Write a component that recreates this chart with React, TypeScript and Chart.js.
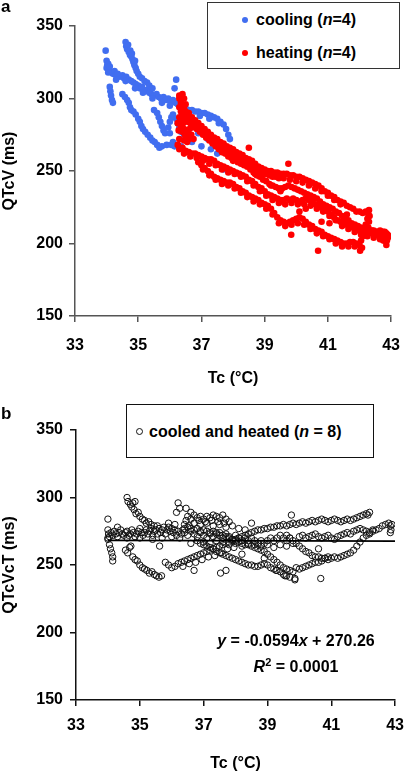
import React, { useEffect, useRef } from "react";
import { Chart, registerables } from "chart.js";
Chart.register(...registerables);

type P = [number, number];

const FONT = '"Liberation Sans", Arial, Helvetica, sans-serif';

// ---------- Panel a : QTcV vs Tc ----------
const xMin = 33, xMax = 43, xStep = 2;
const yMinA = 150, yMaxA = 350, yStep = 50;

const coolingMain: P[] = [
  [33.97,333],[34.0,326],[34.02,323],[34.0,321],[34.05,324],[34.08,319],[34.1,322],[34.15,318],[34.2,317],[34.25,319],
  [34.3,316],[34.35,317],[34.42,315],[34.5,316],[34.55,314],[34.62,315],[34.7,313],[34.78,312],[34.85,311],[34.92,310],
  [35.0,309],[35.05,307],[35.12,308],[35.2,305],[35.28,306],[35.35,304],[35.42,303],[35.5,302],[35.58,303],[35.65,301],
  [35.72,300],[35.8,301],[35.88,299],[35.95,300],[36.02,298],[36.1,299],[36.18,297],[36.25,296],[36.32,295],[36.4,294],
  [36.5,293],[36.6,292],[36.7,292],[36.8,291],[36.9,291],[37.0,290],[37.1,290],[37.2,289],[37.3,288],[37.4,287],
  [37.5,286],[37.6,284],[37.7,282],[37.78,279],[37.85,275],[37.9,272],
  [34.05,318],[34.3,313],[34.6,312],[34.9,307],[35.15,304],[35.45,300],[35.75,297],[36.0,295],[36.6,289],[36.95,288],
  [37.25,286],[37.55,283],
];
const coolingUpper: P[] = [
  [34.6,339],[34.62,336],[34.65,334],[34.7,332],[34.74,330],[34.78,329],[34.82,327],[34.85,325],[34.88,323],[34.92,321],
  [34.95,319],[35.0,317],[35.05,315],[35.12,314],[35.2,312],[35.28,311],[35.35,309],[35.45,307],
  [34.68,337],[34.75,333],[34.8,331],[34.9,326],
];
const coolingLower: P[] = [
  [34.1,308],[34.12,305],[34.14,302],[34.17,299],[34.2,297],[34.5,303],[34.58,301],[34.65,299],[34.7,297],[34.74,294],
  [34.78,292],[34.85,291],[34.92,289],[35.0,286],[35.05,284],[35.1,281],[35.15,279],[35.22,277],[35.3,275],[35.38,273],
  [35.45,271],[35.52,270],[35.6,268],[35.67,266],[35.75,267],[35.9,268],[36.05,268],[36.15,267],[36.25,268],[36.35,267],
];
const coolingMid: P[] = [
  [35.5,292],[35.6,290],[35.65,287],[35.7,284],[35.75,281],[35.8,278],[35.85,276],[35.95,280],[36.0,284],[36.05,287],
  [36.1,289],[36.2,286],[36.25,283],[36.3,280],[36.35,277],[36.45,275],
];
const coolingScatter: P[] = [
  [36.2,313],[36.15,307],[36.0,276],[36.1,270],[36.7,270],[37.0,267],[37.3,265],[37.5,262],[37.7,251],[38.3,258],
  [38.4,258],[38.2,261],[37.9,262],[37.2,272],[36.9,276],[36.4,283],
];

const heatingTop: P[] = [
  [36.3,302],[36.35,299],[36.4,296],[36.45,293],[36.5,291],[36.6,289],[36.7,287],[36.8,285],[36.9,283],[37.0,281],
  [37.1,279],[37.2,277],[37.3,275],[37.4,273],[37.5,272],[37.6,270],[37.7,269],[37.8,267],[37.9,266],[38.0,265],
  [38.1,263],[38.2,262],[38.3,261],[38.4,259],[38.5,258],[38.6,257],[38.7,255],[38.8,253],[38.9,252],[39.0,251],
  [39.1,250],[39.2,250],[39.3,249],[39.4,249],[39.5,248],[39.6,248],[39.7,248],[39.8,247],[39.9,247],[40.0,246],
  [40.1,246],[40.2,245],[40.3,244],[40.4,243],[40.5,242],[40.6,241],[40.7,240],[40.8,238],[40.9,236],[41.0,235],
  [41.1,233],[41.2,232],[41.3,230],[41.4,229],[41.5,228],[41.6,226],[41.7,225],[41.8,224],[41.9,222],[42.0,222],
  [42.1,221],[42.2,222],[42.3,223],[42.32,219],[42.3,215],[42.28,211],[42.4,209],[42.5,208],[42.6,207],[42.7,208],
  [42.8,208],[42.85,205],[42.87,202],[42.85,199],[42.9,204],
];
const heatingTopInner: P[] = [
  [36.55,287],[36.65,286],[36.75,283],[36.85,282],[36.95,279],[37.05,278],[37.15,275],[37.25,274],[37.35,271],[37.45,270],
  [37.55,268],[37.65,266],[37.75,265],[37.85,263],[37.95,262],[38.05,261],[38.15,259],[38.25,258],[38.35,257],[38.45,255],
  [38.55,254],[38.65,253],[38.75,251],[38.85,250],[38.95,248],[39.05,248],[39.15,247],[39.25,246],[39.35,246],[39.45,245],
  [39.6,245],[39.8,244],[40.0,243],[40.2,242],[40.4,240],[40.6,238],[40.8,236],[41.0,233],[41.2,230],[41.4,227],
];
const heatingSecond: P[] = [
  [36.45,288],[36.55,285],[36.65,283],[36.75,281],[36.85,279],[36.95,277],[37.05,275],[37.15,273],[37.25,271],[37.35,269],
  [37.45,267],[37.55,265],[37.65,263],[37.75,262],[37.85,260],[37.95,259],[38.05,258],[38.15,256],[38.25,255],[38.35,254],
  [38.45,253],[38.55,251],[38.65,249],[38.75,247],[38.85,246],[38.95,244],[39.05,243],[39.15,241],[39.25,240],[39.35,239],
  [39.45,238],[39.55,238],[39.65,239],[39.75,240],[39.85,239],[39.95,238],[40.05,237],[40.15,236],[40.25,235],[40.35,234],
  [40.45,233],[40.55,232],[40.65,231],[40.75,229],[40.85,227],[40.95,226],[41.05,225],[41.15,224],[41.25,222],[41.35,221],
  [41.45,219],[41.55,217],[41.65,216],[41.75,214],[41.85,213],[41.95,212],[42.05,211],[42.15,210],[42.25,210],[42.35,209],
  [42.45,209],[42.55,208],[42.65,209],[42.75,208],[42.85,207],
];
const heatingThird: P[] = [
  [36.25,268],[36.3,265],[36.4,266],[36.5,264],[36.6,263],[36.7,262],[36.8,262],[36.9,261],[37.0,260],[37.1,259],
  [37.2,258],[37.3,258],[37.4,257],[37.5,255],[37.6,254],[37.7,253],[37.8,252],[37.9,251],[38.0,250],[38.1,249],
  [38.2,248],[38.3,247],[38.4,246],[38.5,244],[38.6,243],[38.7,241],[38.8,239],[38.9,238],[39.0,236],[39.1,234],
  [39.2,233],[39.3,232],[39.4,231],[39.5,230],[39.6,230],[39.7,231],[39.8,230],[39.9,231],[40.0,230],[40.1,229],
  [40.2,230],[40.3,231],[40.4,230],[40.5,229],[40.6,227],[40.7,226],[40.8,225],[40.9,224],[41.0,222],[41.1,220],
  [41.2,218],[41.3,216],[41.4,215],[41.5,214],[41.6,213],[41.7,212],[41.8,211],[41.9,210],[42.0,209],[42.1,208],
  [42.2,208],[42.3,207],[42.4,207],[42.5,206],[42.6,206],[42.7,205],[42.8,206],[42.9,206],
  [36.45,262],[36.65,260],[36.85,259],[37.05,257],[37.25,255],[37.45,254],[37.65,251],[37.85,249],[38.05,248],[38.25,246],
  [38.45,243],[38.65,240],[38.85,236],[39.05,233],[39.25,230],[39.45,228],[39.65,227],[39.85,228],[40.05,227],[40.25,227],
  [40.45,226],[40.65,224],[40.85,222],[41.05,219],[41.25,216],[41.45,212],[41.65,210],[41.85,208],[42.05,206],[42.25,205],
  [42.45,204],[42.65,203],[42.75,202],
];
const heatingFourth: P[] = [
  [36.9,256],[37.0,254],[37.1,252],[37.2,250],[37.3,248],[37.4,246],[37.5,245],[37.6,244],[37.7,243],[37.8,242],
  [37.9,242],[38.0,241],[38.1,239],[38.2,238],[38.3,236],[38.4,235],[38.5,233],[38.6,232],[38.7,231],[38.8,230],
  [38.9,228],[39.0,227],[39.1,226],[39.2,224],[39.3,221],[39.4,218],[39.5,216],[39.6,215],[39.7,214],[39.8,215],
  [39.9,216],[40.0,217],[40.1,218],[40.2,217],[40.3,215],[40.4,213],[40.5,212],[40.6,210],[40.7,209],[40.8,208],
  [40.9,206],[41.0,205],[41.1,204],[41.2,203],[41.3,202],[41.4,201],[41.5,200],[41.6,200],[41.7,201],[41.8,201],
  [41.9,200],[42.0,199],[42.05,202],[42.1,205],[42.15,209],[42.2,213],[42.25,217],[42.28,220],
  [37.05,251],[37.25,247],[37.45,244],[37.65,241],[37.85,240],[38.05,238],[38.25,235],[38.45,232],[38.65,229],[38.85,227],
  [39.05,224],[39.25,220],[39.45,214],[39.65,212],[39.85,213],[40.05,214],[40.25,213],[40.45,210],[40.65,207],[40.85,205],
  [41.05,203],[41.25,200],[41.45,198],[41.65,198],[41.85,198],
];
const heatingStart: P[] = [
  [36.3,300],[36.35,297],[36.3,294],[36.35,291],[36.4,289],[36.3,287],[36.38,285],[36.42,283],[36.35,281],[36.45,279],
  [36.4,277],[36.48,275],[36.5,273],[36.45,271],[36.55,270],[36.6,272],[36.58,276],[36.62,279],[36.55,284],[36.52,288],
  [36.6,290],[36.5,296],[36.4,303],[36.45,300],[36.7,280],[36.68,275],[36.75,272],[36.25,283],[36.28,278],[36.3,272],
];
const heatingScatter: P[] = [
  [38.5,266],[39.75,255],[39.84,206],[40.69,195],[42.02,195],[42.08,197],[41.05,214],[40.3,224],[39.2,240],[38.7,248],
  [39.5,236],[40.1,222],[40.8,215],[41.6,220],[38.0,257],
];

// ---------- Panel b : QTcVcT vs Tc ----------
const yMinB = 150, yMaxB = 350;
const slope = -0.0594, intercept = 270.26;
const fitFrom = 34, fitTo = 43;

const cvFlatLeft: P[] = [
  [34.0,276],[34.02,273],[34.05,271],[34.0,270],[34.1,274],[34.15,272],[34.2,275],[34.25,273],[34.3,271],[34.35,274],
  [34.4,276],[34.45,273],[34.5,272],[34.55,274],[34.6,275],[34.65,272],[34.7,273],[34.75,276],[34.8,274],[34.85,271],
  [34.9,273],[34.95,275],[35.0,277],[35.05,274],[35.1,272],[35.15,274],[35.2,276],[35.25,273],[35.3,275],[35.35,277],
  [35.4,272],[35.45,275],[35.5,276],[35.55,273],[35.6,277],[35.65,274],[35.7,276],[35.75,278],[35.8,273],[35.85,276],
  [35.9,278],[35.95,275],[36.0,277],[36.05,274],[36.1,276],[36.15,272],[36.2,275],[36.25,270],[36.3,273],[36.35,276],
  [34.3,278],[34.6,270],[35.0,270],[35.4,269],[35.7,270],[36.0,271],[35.9,281],[36.1,280],
];
const cvSpike: P[] = [
  [34.0,284],[34.6,300],[34.63,297],[34.7,295],[34.78,296],[34.85,297],[34.75,293],[34.82,291],[34.88,288],[34.95,289],
  [35.0,286],[35.08,284],[35.15,283],[35.2,281],[35.28,282],[35.35,280],[35.45,279],[35.55,279],
];
const cvLowLeft: P[] = [
  [34.0,269],[34.05,265],[34.08,262],[34.12,259],[34.15,256],[34.15,253],[34.55,261],[34.62,259],[34.68,263],[34.72,264],
  [34.78,256],[34.85,254],[34.92,253],[35.0,250],[35.08,248],[35.15,247],[35.22,246],[35.3,244],[35.38,245],[35.45,243],
  [35.52,242],[35.6,241],[35.68,242],[35.62,264],
];
const cvRising: P[] = [
  [35.8,252],[35.9,250],[36.0,248],[36.1,249],[36.2,251],[36.3,252],[36.4,253],[36.5,254],[36.6,255],[36.7,256],
  [36.8,257],[36.9,258],[37.0,259],[37.1,260],[37.2,261],[37.3,262],[37.4,263],[37.5,264],[37.6,265],[37.7,266],
  [37.8,267],[37.9,268],[38.0,269],[38.1,270],[38.2,271],[38.3,272],[38.4,273],[38.5,274],[38.6,275],[38.7,276],
  [38.8,276],[38.9,277],[39.0,277],[39.1,278],[39.2,278],[39.3,279],[39.4,279],[39.5,280],
  [36.35,249],[36.55,251],[36.75,252],[36.95,254],[37.15,256],[37.35,257],[37.55,259],[37.75,262],[37.95,263],
];
const cvUpperMid: P[] = [
  [36.45,283],[36.5,286],[36.6,284],[36.7,287],[36.8,285],[36.9,286],[37.0,284],[37.1,286],[37.2,285],[37.3,287],
  [37.4,286],[37.5,285],[37.6,287],[37.7,284],[37.8,282],[37.9,279],[36.4,280],[36.55,279],[36.7,281],[36.9,280],
  [37.1,281],[37.3,279],[37.5,280],[37.7,278],[36.15,289],[36.25,292],[36.2,296],[36.45,292],[38.5,281],[39.75,287],
  [36.6,289],[36.85,283],[37.05,282],[37.25,283],[37.45,282],[37.65,281],[38.1,277],[38.3,276],
];
const cvCenter: P[] = [
  [36.4,274],[36.5,272],[36.6,275],[36.7,273],[36.8,271],[36.9,274],[37.0,272],[37.1,270],[37.2,273],[37.3,271],
  [37.4,274],[37.5,272],[37.6,270],[37.7,273],[37.8,271],[37.9,269],[38.0,272],[38.1,270],[38.2,268],[38.3,270],
  [38.4,268],[38.5,270],[38.6,268],[38.7,266],[38.8,268],[38.9,266],[39.0,268],[39.1,270],[39.2,268],[39.3,270],
  [39.4,272],[39.5,270],[39.6,268],[39.7,270],
  [36.6,266],[36.8,268],[37.0,267],[37.2,266],[37.4,268],[37.6,267],[37.8,265],[38.0,266],[38.2,264],[38.4,266],
  [38.6,265],[38.8,264],[39.0,265],[39.2,263],[39.4,265],[39.6,264],[39.8,266],
];
const cvDescending: P[] = [
  [36.4,277],[36.5,278],[36.6,277],[36.7,276],[36.8,277],[36.9,275],[37.0,276],[37.1,275],[37.2,274],[37.3,275],
  [37.4,273],[37.5,274],[37.6,272],[37.7,271],[37.8,270],[37.9,269],[38.0,268],[38.1,267],[38.2,266],[38.3,265],
  [38.4,265],[38.5,264],[38.6,263],[38.7,262],[38.8,261],[38.9,260],[39.0,258],[39.1,256],[39.2,254],[39.3,252],
  [39.4,250],[39.5,248],[39.6,247],[39.7,246],[39.8,245],
];
const cvFalling: P[] = [
  [36.9,266],[37.0,265],[37.1,264],[37.2,263],[37.3,262],[37.4,260],[37.5,259],[37.6,258],[37.7,257],[37.8,256],
  [37.9,255],[38.0,254],[38.1,253],[38.2,252],[38.3,251],[38.4,250],[38.5,250],[38.6,249],[38.7,249],[38.8,250],
  [38.9,251],[39.0,250],[39.1,248],[39.2,247],[39.3,246],[39.4,245],[39.5,243],[39.6,242],[39.7,241],[39.86,240],
];
const cvRightUpper: P[] = [
  [39.6,279],[39.7,280],[39.8,281],[39.9,280],[40.0,281],[40.1,282],[40.2,281],[40.3,282],[40.4,283],[40.5,282],
  [40.6,283],[40.7,284],[40.8,283],[40.9,282],[41.0,283],[41.1,284],[41.2,283],[41.3,282],[41.4,283],[41.5,284],
  [41.6,283],[41.7,284],[41.8,285],[41.9,286],[42.0,287],[42.1,288],[42.2,289],[42.15,287],
];
const cvRightDip: P[] = [
  [39.6,272],[39.7,270],[39.8,268],[39.9,266],[40.0,264],[40.1,262],[40.2,260],[40.3,259],[40.4,257],[40.5,256],
  [40.6,256],[40.7,255],[40.8,255],[40.9,254],[41.0,255],[41.1,256],[41.2,255],[41.3,256],[41.4,257],[41.5,258],
  [41.6,259],[41.7,261],[41.8,264],[41.9,267],[42.0,270],[42.1,272],[42.2,273],[42.3,275],[42.4,276],[42.5,277],
  [42.6,279],[42.7,280],[42.8,281],[42.85,279],[42.87,276],[42.85,274],[42.9,280],
];
const cvRightLower: P[] = [
  [39.9,248],[40.0,247],[40.1,248],[40.2,249],[40.3,250],[40.4,251],[40.5,252],[40.6,252],[40.7,253],[40.8,255],[40.9,256],
];
const cvRightFlat: P[] = [
  [40.0,271],[40.1,272],[40.2,270],[40.3,271],[40.4,272],[40.5,273],[40.6,271],[40.7,270],[40.8,271],[40.9,272],
  [41.0,270],[41.1,269],[41.2,271],[41.3,272],[41.4,273],[41.5,274],[41.6,273],[41.7,275],[41.8,276],[41.9,277],
  [42.0,276],[42.1,275],[42.2,274],[42.3,276],
];
const cvScatter: P[] = [
  [40.67,240],[39.86,239],[36.7,246],[37.53,244],[37.7,246],[39.27,246],[39.55,242],[38.9,255],[38.2,258],[40.6,262],
];

const coolingPoints = [...coolingMain, ...coolingUpper, ...coolingLower, ...coolingMid, ...coolingScatter];
const heatingPoints = [...heatingTop, ...heatingTopInner, ...heatingSecond, ...heatingThird, ...heatingFourth, ...heatingStart, ...heatingScatter];
const combinedPoints = [
  ...cvFlatLeft, ...cvSpike, ...cvLowLeft, ...cvRising, ...cvUpperMid, ...cvCenter, ...cvDescending,
  ...cvFalling, ...cvRightUpper, ...cvRightDip, ...cvRightLower, ...cvRightFlat, ...cvScatter,
];

const toXY = (arr: P[]) => arr.map(([x, y]) => ({ x, y }));

function axes(opts: {
  yMin: number; yMax: number; yTitle: string; axisColor: string;
  yWidth: number; xHeight: number; xTickPad: number; yTickPad: number; xTitlePad: number;
}) {
  const tickFont = { family: FONT, size: 16, weight: "bold" as const };
  return {
    x: {
      type: "linear" as const,
      min: xMin, max: xMax,
      afterFit: (s: any) => { s.height = opts.xHeight; },
      ticks: { stepSize: xStep, color: "#000", font: tickFont, padding: opts.xTickPad, maxRotation: 0 },
      grid: { drawOnChartArea: false, drawTicks: true, tickLength: 6, color: opts.axisColor, lineWidth: 1.5 },
      border: { display: true, color: opts.axisColor, width: 1.5 },
      title: { display: true, text: "Tc (°C)", color: "#000", font: tickFont, padding: { top: 0, bottom: opts.xTitlePad } },
    },
    y: {
      type: "linear" as const,
      min: opts.yMin, max: opts.yMax,
      afterFit: (s: any) => { s.width = opts.yWidth; },
      ticks: { stepSize: yStep, color: "#000", font: tickFont, padding: opts.yTickPad },
      grid: { drawOnChartArea: false, drawTicks: true, tickLength: 6, color: opts.axisColor, lineWidth: 1.5 },
      border: { display: true, color: opts.axisColor, width: 1.5 },
      title: { display: true, text: opts.yTitle, color: "#000", font: tickFont, padding: { top: 0, bottom: 0 } },
    },
  };
}

function ChartA() {
  const ref = useRef<HTMLCanvasElement>(null);
  useEffect(() => {
    const chart = new Chart(ref.current!, {
      type: "scatter",
      data: {
        datasets: [
          { label: "heating (n=4)", data: toXY(heatingPoints), backgroundColor: "#ff0000", borderWidth: 0, pointRadius: 3.3 },
          { label: "cooling (n=4)", data: toXY(coolingPoints), backgroundColor: "#416ef0", borderWidth: 0, pointRadius: 3.3 },
        ],
      },
      options: {
        responsive: false,
        animation: false,
        devicePixelRatio: 1,
        events: [],
        layout: { padding: { left: 0, right: 10, top: 26, bottom: 0 } },
        plugins: { legend: { display: false }, tooltip: { enabled: false } },
        scales: axes({ yMin: yMinA, yMax: yMaxA, yTitle: "QTcV (ms)", axisColor: "#555",
          yWidth: 75, xHeight: 76, xTickPad: 14, yTickPad: 6, xTitlePad: 4 }) as any,
      },
    });
    return () => chart.destroy();
  }, []);
  return <canvas ref={ref} width={414} height={392} style={{ width: 414, height: 392, display: "block" }} />;
}

function ChartB() {
  const ref = useRef<HTMLCanvasElement>(null);
  useEffect(() => {
    const fitLine = [fitFrom, fitTo].map((x) => ({ x, y: slope * x + intercept }));
    const chart = new Chart(ref.current!, {
      type: "scatter",
      data: {
        datasets: [
          { label: "fit", data: fitLine, showLine: true, borderColor: "#000", borderWidth: 1.8, pointRadius: 0, fill: false },
          { label: "cooled and heated (n = 8)", data: toXY(combinedPoints), backgroundColor: "rgba(0,0,0,0)",
            borderColor: "#111", borderWidth: 1, pointRadius: 3.2 },
        ],
      },
      options: {
        responsive: false,
        animation: false,
        devicePixelRatio: 1,
        events: [],
        layout: { padding: { left: 0, right: 16, top: 38, bottom: 0 } },
        plugins: { legend: { display: false }, tooltip: { enabled: false } },
        scales: axes({ yMin: yMinB, yMax: yMaxB, yTitle: "QTcVcT (ms)", axisColor: "#111",
          yWidth: 76, xHeight: 74, xTickPad: 10, yTickPad: 7, xTitlePad: 1 }) as any,
      },
    });
    return () => chart.destroy();
  }, []);
  return <canvas ref={ref} width={414} height={382} style={{ width: 414, height: 382, display: "block" }} />;
}

const txt: React.CSSProperties = {
  position: "absolute", fontFamily: FONT, fontWeight: "bold", fontSize: 16, lineHeight: "20px",
  whiteSpace: "nowrap", color: "#000",
};

export default function App() {
  return (
    <div style={{ position: "absolute", left: 0, top: 0, width: 414, height: 774, background: "#fff", overflow: "hidden" }}>
      <div style={{ position: "absolute", left: 0, top: 0 }}><ChartA /></div>
      <div style={{ position: "absolute", left: 0, top: 392 }}><ChartB /></div>

      <div style={{ ...txt, left: 1, top: -3, fontSize: 17 }}>a</div>
      <div style={{ ...txt, left: 1, top: 404, fontSize: 17 }}>b</div>

      {/* legend a */}
      <div style={{ position: "absolute", left: 207, top: 2, width: 193, height: 67, boxSizing: "border-box", border: "1.5px solid #333", background: "#fff" }} />
      <div style={{ position: "absolute", left: 242, top: 17, width: 6, height: 6, borderRadius: "50%", background: "#416ef0" }} />
      <div style={{ ...txt, left: 256, top: 10 }}>cooling (<i>n</i>=4)</div>
      <div style={{ position: "absolute", left: 242, top: 50, width: 6, height: 6, borderRadius: "50%", background: "#ff0000" }} />
      <div style={{ ...txt, left: 256, top: 43 }}>heating (<i>n</i>=4)</div>

      {/* legend b */}
      <div style={{ position: "absolute", left: 126, top: 404, width: 248, height: 54, boxSizing: "border-box", border: "1.5px solid #111", background: "#fff" }} />
      <div style={{ position: "absolute", left: 135.5, top: 428, width: 7, height: 7, boxSizing: "border-box", borderRadius: "50%", border: "1px solid #111" }} />
      <div style={{ ...txt, left: 149, top: 422 }}>cooled and heated (<i>n</i> = 8)</div>

      {/* regression equation */}
      <div style={{ ...txt, left: 146, width: 300, textAlign: "center", top: 631 }}>
        <i>y</i> = -0.0594<i>x</i> + 270.26
      </div>
      <div style={{ ...txt, left: 146, width: 300, textAlign: "center", top: 657 }}>
        <i>R</i><span style={{ fontSize: 11, position: "relative", top: -6 }}>2</span> = 0.0001
      </div>
    </div>
  );
}
